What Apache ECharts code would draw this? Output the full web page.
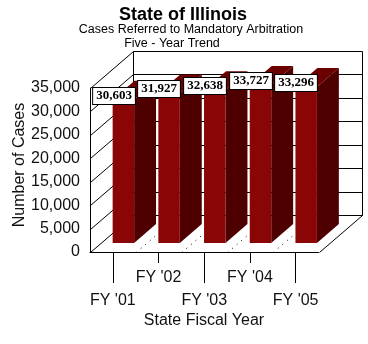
<!DOCTYPE html>
<html><head><meta charset="utf-8">
<script src="https://cdn.jsdelivr.net/npm/echarts@6/dist/echarts.min.js"></script>
<style>html,body{margin:0;padding:0;background:#fff}#c{width:368px;height:344px}</style>
</head><body><div id="c"></div>
<script>
const categories = ["FY '01", "FY '02", "FY '03", "FY '04", "FY '05"];
const cases = [30603, 31927, 32638, 33727, 33296];
const yTicks = [0, 5000, 10000, 15000, 20000, 25000, 30000, 35000];
const titleText = 'State of Illinois';
const subtitleText = 'Cases Referred to Mandatory Arbitration';
const subtitle2Text = 'Five - Year Trend';
const xName = 'State Fiscal Year';
const yName = 'Number of Cases';

const DX = 43, DY = 37;          // depth of the 3D box (px)
const F1 = 0.245, F2 = 0.755;    // bar front/back depth fraction
const BAR_W = 0.47;              // bar width as fraction of band
const FRONT = '#8a0505', SIDE = '#4e0000', TOP = '#6a0000';
const FONT = '"Liberation Sans", Arial, sans-serif';

function fmt(v) { return v.toLocaleString('en-US'); }

function ln(x1, y1, x2, y2, extra) {
  return Object.assign({ type: 'line', silent: true,
    shape: { x1: x1, y1: y1, x2: x2, y2: y2 },
    style: { stroke: '#000', lineWidth: 1 } }, extra || {});
}

function renderWalls(params, api) {
  const cs = params.coordSys;
  const x0 = Math.round(cs.x) + 0.5, x1 = Math.round(cs.x + cs.width) + 0.5;
  const band = api.size([1, 0])[0];
  const yc = t => Math.round(api.coord([0, t])[1]) + 0.5;
  const y0 = yc(0), yTop = yc(yTicks[yTicks.length - 1]);
  const ch = [];
  ch.push(ln(x1, y0, x1 + DX, y0 - DY));
  ch.push(ln(x0 + DX, y0 - DY, x0 + DX, yTop - DY));
  ch.push(ln(x1 + DX, y0 - DY, x1 + DX, yTop - DY));
  yTicks.forEach(t => {
    const y = yc(t);
    ch.push(ln(x0, y, x0 + DX, y - DY));
    ch.push(ln(x0 + DX, y - DY, x1 + DX, y - DY));
  });
  for (let k = 1; k < categories.length; k++) {
    const xk = x0 + k * band;
    ch.push(ln(xk, y0, xk + DX, y0 - DY, { style: { stroke: '#000', lineWidth: 1, lineDash: [1, 5] } }));
  }
  return { type: 'group', children: ch };
}

function barGeom(api) {
  const idx = api.value(0), v = api.value(1);
  const top = api.coord([idx, v]);
  const base = api.coord([idx, 0]);
  const band = api.size([1, 0])[0];
  const w = band * BAR_W;
  const l = top[0] - w / 2 + F1 * DX;
  return { v: v, l: l, r: l + w, w: w, yb: base[1] - F1 * DY, yt: top[1] - F1 * DY,
           ddx: (F2 - F1) * DX, ddy: (F2 - F1) * DY };
}

function renderBar(params, api) {
  const g = barGeom(api);
  return { type: 'group', children: [
    { type: 'polygon', shape: { points: [[g.r, g.yb], [g.r + g.ddx, g.yb - g.ddy], [g.r + g.ddx, g.yt - g.ddy], [g.r, g.yt]] }, style: { fill: SIDE } },
    { type: 'polygon', shape: { points: [[g.l, g.yt], [g.r, g.yt], [g.r + g.ddx, g.yt - g.ddy], [g.l + g.ddx, g.yt - g.ddy]] }, style: { fill: TOP } },
    { type: 'rect', shape: { x: g.l, y: g.yt, width: g.w, height: g.yb - g.yt }, style: { fill: FRONT } }
  ] };
}

function renderLabel(params, api) {
  const g = barGeom(api);
  return { type: 'text', x: Math.round(g.l + 1), y: Math.round(g.yt - 4),
    style: { text: fmt(g.v), font: 'bold 13px "Liberation Serif", "Times New Roman", serif', fill: '#000',
      align: 'center', verticalAlign: 'middle', backgroundColor: '#fff',
      borderColor: '#000', borderWidth: 1, padding: [2, 3, 1, 3] } };
}

const barData = cases.map((v, i) => [i, v]);

const baseX = {
  type: 'category', data: categories, boundaryGap: true, gridIndex: 0, position: 'bottom',
  axisLine: { show: true, lineStyle: { color: '#000', width: 1 } },
  splitLine: { show: false }
};

const option = {
  animation: false,
  backgroundColor: '#fff',
  grid: { left: 90, top: 88, width: 228.5, height: 164, containLabel: false },
  xAxis: [
    Object.assign({}, baseX, {
      axisTick: { show: true, alignWithLabel: true, length: 31, interval: (i) => i % 2 === 0, lineStyle: { color: '#000' } },
      axisLabel: { interval: (i) => i % 2 === 0, margin: 41, color: '#111', fontSize: 16, fontFamily: FONT }
    }),
    Object.assign({}, baseX, {
      axisLine: { show: false },
      axisTick: { show: true, alignWithLabel: true, length: 11, interval: (i) => i % 2 === 1, lineStyle: { color: '#000' } },
      axisLabel: { interval: (i) => i % 2 === 1, margin: 18, color: '#111', fontSize: 16, fontFamily: FONT }
    })
  ],
  yAxis: {
    type: 'value', min: yTicks[0], max: yTicks[yTicks.length - 1], interval: 5000,
    axisLine: { show: true, lineStyle: { color: '#000', width: 1 } },
    axisTick: { show: false }, splitLine: { show: false },
    axisLabel: { margin: 10, color: '#111', fontSize: 16, fontFamily: FONT, padding: [4, 0, 0, 0], formatter: v => fmt(v) }
  },
  graphic: [
    { type: 'text', x: 183, y: 15, style: { text: titleText, font: 'bold 18px ' + FONT, fill: '#000', align: 'center', verticalAlign: 'middle' } },
    { type: 'text', x: 191, y: 30, style: { text: subtitleText, font: '12.5px ' + FONT, fill: '#000', align: 'center', verticalAlign: 'middle' } },
    { type: 'text', x: 172, y: 44, style: { text: subtitle2Text, font: '12.5px ' + FONT, fill: '#000', align: 'center', verticalAlign: 'middle' } },
    { type: 'text', x: 204, y: 321, style: { text: xName, font: '16px ' + FONT, fill: '#111', align: 'center', verticalAlign: 'middle' } },
    { type: 'text', x: 20, y: 165, rotation: Math.PI / 2, style: { text: yName, font: '16px ' + FONT, fill: '#111', align: 'center', verticalAlign: 'middle' } }
  ],
  series: [
    { type: 'custom', name: 'walls', xAxisIndex: 0, yAxisIndex: 0, z: 1, silent: true,
      renderItem: renderWalls, data: [[0, 0]] },
    { type: 'custom', name: 'Cases', xAxisIndex: 0, yAxisIndex: 0, z: 3,
      renderItem: renderBar, data: barData },
    { type: 'custom', name: 'labels', xAxisIndex: 0, yAxisIndex: 0, z: 5, silent: true,
      renderItem: renderLabel, data: barData }
  ]
};
const chart = echarts.init(document.getElementById('c'), null, { renderer: 'canvas' });
chart.setOption(option);
</script>
</body></html>
